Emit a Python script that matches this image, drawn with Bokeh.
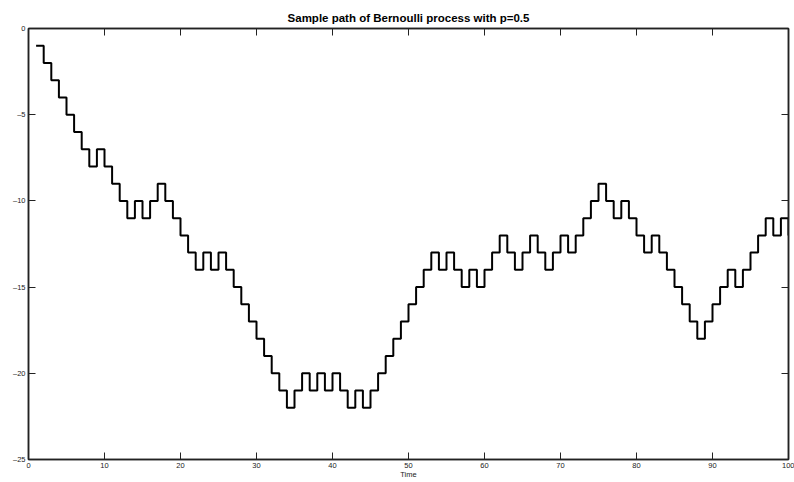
from bokeh.plotting import figure
from bokeh.models import Range1d, LinearAxis, FixedTicker
from bokeh.embed import file_html
from bokeh.resources import INLINE

# Data
times = list(range(1, 101))
path = [-1, -2, -3, -4, -5, -6, -7, -8, -7, -8,
        -9, -10, -11, -10, -11, -10, -9, -10, -11, -12,
        -13, -14, -13, -14, -13, -14, -15, -16, -17, -18,
        -19, -20, -21, -22, -21, -20, -21, -20, -21, -20,
        -21, -22, -21, -22, -21, -20, -19, -18, -17, -16,
        -15, -14, -13, -14, -13, -14, -15, -14, -15, -14,
        -13, -12, -13, -14, -13, -12, -13, -14, -13, -12,
        -13, -12, -11, -10, -9, -10, -11, -10, -11, -12,
        -13, -12, -13, -14, -15, -16, -17, -18, -17, -16,
        -15, -14, -15, -14, -13, -12, -11, -12, -11, -12]

x_ticks = [0, 10, 20, 30, 40, 50, 60, 70, 80, 90, 100]
x_tick_labels = ["0", "10", "20", "30", "40", "50", "60", "70", "80", "90", "100"]
y_ticks = [-25, -20, -15, -10, -5, 0]
y_tick_labels = ["\u201325", "\u201320", "\u201315", "\u201310", "\u20135", "0"]

title_text = "Sample path of Bernoulli process with p=0.5"
x_label = "Time"

FONT = "Liberation Sans"

p = figure(width=794, height=482, output_backend="svg", toolbar_location=None,
           x_range=Range1d(0, 100), y_range=Range1d(-25, 0),
           title=title_text,
           min_border_left=28, min_border_right=6,
           min_border_top=28, min_border_bottom=23)

p.title.text_font = FONT
p.title.text_font_size = "11.5px"
p.title.text_font_style = "bold"
p.title.align = "center"
p.title.text_color = "black"
p.title.offset = 0

p.grid.visible = False
p.outline_line_color = "#222222"
p.outline_line_width = 1.5
p.background_fill_color = "white"
p.border_fill_color = "white"

p.step(times, path, mode="after", line_color="black", line_width=2)

def style_axis(ax, ticks, labels, show_labels=True):
    ax.ticker = FixedTicker(ticks=ticks)
    ax.major_tick_in = 7
    ax.major_tick_out = 0
    ax.minor_tick_in = 0
    ax.minor_tick_out = 0
    ax.axis_line_color = "#222222"
    ax.axis_line_width = 1.5
    ax.major_tick_line_color = "#222222"
    ax.major_tick_line_width = 1
    ax.major_label_text_font = FONT
    ax.major_label_text_color = "#222222"
    ax.major_label_text_font_size = "7.5px"
    if show_labels:
        ax.major_label_overrides = {t: l for t, l in zip(ticks, labels)}
        ax.major_label_standoff = 3
    else:
        ax.major_label_overrides = {t: "" for t in ticks}
        ax.major_label_standoff = 0

style_axis(p.xaxis[0], x_ticks, x_tick_labels)
style_axis(p.yaxis[0], y_ticks, y_tick_labels)
p.xaxis[0].axis_label = x_label
p.xaxis[0].axis_label_text_font = FONT
p.xaxis[0].axis_label_text_font_size = "7.5px"
p.xaxis[0].axis_label_text_font_style = "normal"
p.xaxis[0].axis_label_standoff = -1
p.xaxis[0].axis_label_text_color = "#222222"

top_axis = LinearAxis()
style_axis(top_axis, x_ticks, x_tick_labels, show_labels=False)
p.add_layout(top_axis, "above")

right_axis = LinearAxis()
style_axis(right_axis, y_ticks, y_tick_labels, show_labels=False)
p.add_layout(right_axis, "right")

open("out.html", "w").write(file_html(p, INLINE))
